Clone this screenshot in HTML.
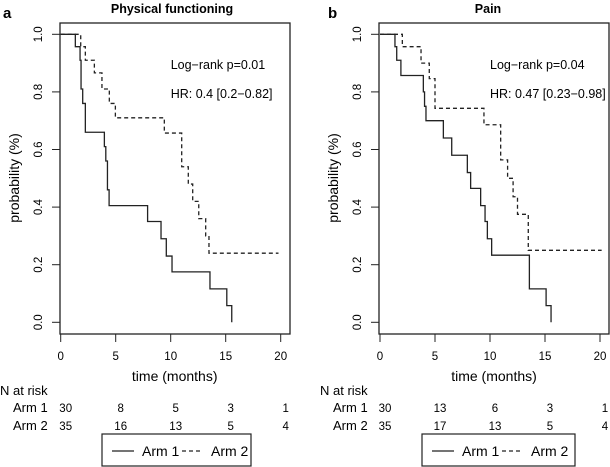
<!DOCTYPE html>
<html><head><meta charset="utf-8"><style>
html,body{margin:0;padding:0;background:#fff}
svg{display:block;font-family:"Liberation Sans",Arial,sans-serif}
</style></head><body>
<svg id="chart" width="610" height="467" viewBox="0 0 610 467"></svg>
<script>
// Panel a: Physical functioning
const aArm1Times=[0,1.33,1.76,1.85,2.0,2.24,3.97,4.1,4.25,4.4,7.9,9.12,9.6,10.12,13.57,15.1,15.55];
const aArm1Surv=[1.0,0.957,0.91,0.81,0.76,0.66,0.61,0.56,0.46,0.405,0.35,0.29,0.23,0.175,0.116,0.058,0.0];
const aArm2Times=[0,1.82,2.24,3.06,3.75,4.42,4.97,9.42,11.0,11.6,12.0,12.55,13.18,13.48];
const aArm2Surv=[1.0,0.957,0.91,0.866,0.81,0.76,0.71,0.657,0.54,0.48,0.42,0.36,0.30,0.24];
const aArm2End=19.8;
// Panel b: Pain
const bArm1Times=[0,1.36,1.52,1.9,3.94,4.05,4.18,5.76,6.52,7.94,8.24,9.15,9.55,9.76,10.15,13.58,15.1,15.55];
const bArm1Surv=[1.0,0.957,0.91,0.857,0.80,0.75,0.70,0.64,0.58,0.52,0.465,0.405,0.35,0.29,0.233,0.116,0.058,0.0];
const bArm2Times=[0,2.03,3.73,4.48,5.0,9.45,10.97,11.6,12.1,12.5,13.48];
const bArm2Surv=[1.0,0.957,0.90,0.846,0.743,0.686,0.564,0.50,0.436,0.375,0.25];
const bArm2End=20.15;
const xTicks=[0,5,10,15,20];
const yTicks=[0,0.2,0.4,0.6,0.8,1.0];
const yTickLabels=["0.0","0.2","0.4","0.6","0.8","1.0"];
const riskTimes=[0,5,10,15,20];
const aRisk1=[30,8,5,3,1];
const aRisk2=[35,16,13,5,4];
const bRisk1=[30,13,6,3,1];
const bRisk2=[35,17,13,5,4];

const NS="http://www.w3.org/2000/svg";
const svg=document.getElementById('chart');
function mk(tag,attrs,parent,text){const e=document.createElementNS(NS,tag);for(const k in attrs)e.setAttribute(k,attrs[k]);if(text!==undefined)e.textContent=text;(parent||svg).appendChild(e);return e;}

function panel(o){
  const g=mk('g',{});
  
  
  const X=t=>o.x0+t*11.0, Y=p=>322.3-p*288;
  const box=mk('rect',{x:o.bx,y:23,width:o.bw,height:311,fill:'none',stroke:'#222','stroke-width':1.3},g);
  
  const lt=mk('text',{x:o.lx,y:18,'font-size':15,'font-weight':'bold'},g,o.letter);
  
  const tt=mk('text',{x:o.tx,y:13,'font-size':12.5,'font-weight':'bold','text-anchor':'middle'},g,o.title);
  
  xTicks.forEach(v=>{
    const l=mk('line',{x1:X(v),x2:X(v),y1:334,y2:342,stroke:'#222'},g);
    
    const t=mk('text',{x:X(v),y:360,'font-size':11.5,'text-anchor':'middle'},g,String(v));
    
  });
  yTicks.forEach((v,i)=>{
    const l=mk('line',{x1:o.bx-8,x2:o.bx,y1:Y(v),y2:Y(v),stroke:'#222'},g);
    
    const t=mk('text',{x:o.bx-18,y:Y(v),'font-size':11.5,'text-anchor':'middle',transform:`rotate(-90 ${o.bx-18} ${Y(v)})`},g,yTickLabels[i]);
    
  });
  const yt=mk('text',{x:o.bx-41,y:178,'font-size':14,'text-anchor':'middle',transform:`rotate(-90 ${o.bx-41} 178)`},g,'probability (%)');
  
  const xt=mk('text',{x:X(10)+4,y:381,'font-size':14,'text-anchor':'middle'},g,'time (months)');
  
  const a1=mk('text',{x:X(10),y:69,'font-size':12.5},g,o.lr);
  
  const a2=mk('text',{x:X(10),y:98,'font-size':12.5},g,o.hr);
  
  function step(ts,ss,end){
    let d=`M${X(ts[0])},${Y(ss[0])}`;
    for(let i=1;i<ts.length;i++){d+=` H${X(ts[i])} V${Y(ss[i])}`;}
    if(end!==undefined)d+=` H${X(end)}`;
    return d;
  }
  const p1=mk('path',{d:step(o.t1,o.s1),fill:'none',stroke:'#222','stroke-width':1.3},g);
  
  const p2=mk('path',{d:step(o.t2,o.s2,o.e2),fill:'none',stroke:'#222','stroke-width':1.3,'stroke-dasharray':'4,3'},g);
  
  const nr=mk('text',{x:o.nx,y:395,'font-size':13},g,'N at risk');
  
  const r1=mk('text',{x:o.nx+13,y:412,'font-size':13},g,'Arm 1');
  
  const r2=mk('text',{x:o.nx+13,y:430,'font-size':13},g,'Arm 2');
  
  riskTimes.forEach((t,i)=>{
    const n1=mk('text',{x:X(t)+5,y:412,'font-size':11.5,'text-anchor':'middle'},g,String(o.r1[i]));
    
    const n2=mk('text',{x:X(t)+5,y:430,'font-size':11.5,'text-anchor':'middle'},g,String(o.r2[i]));
    
  });
  const lg=mk('g',{},g);
  
  mk('rect',{x:o.legx,y:434,width:o.legw,height:32,fill:'#fff',stroke:'#222','stroke-width':1.2},lg);
  const s1=mk('line',{x1:o.legx+10,x2:o.legx+32,y1:451,y2:451,stroke:'#222','stroke-width':1.3},lg);
  
  const l1=mk('text',{x:o.legx+40,y:456,'font-size':14},lg,'Arm 1');
  
  const s2=mk('line',{x1:o.legx+80,x2:o.legx+100,y1:451,y2:451,stroke:'#222','stroke-width':1.3,'stroke-dasharray':'4,3'},lg);
  
  const l2=mk('text',{x:o.legx+109,y:456,'font-size':14},lg,'Arm 2');
  
}
panel({name:'panel-a-physical-functioning',x0:60.7,bx:60,bw:230,lx:3,letter:'a',tx:172,title:'Physical functioning',
  lr:'Log\u2212rank p=0.01',hr:'HR: 0.4 [0.2\u22120.82]',t1:aArm1Times,s1:aArm1Surv,t2:aArm2Times,s2:aArm2Surv,e2:aArm2End,
  nx:0,r1:aRisk1,r2:aRisk2,legx:102,legw:149});
panel({name:'panel-b-pain',x0:380,bx:379,bw:230,lx:328,letter:'b',tx:488,title:'Pain',
  lr:'Log\u2212rank p=0.04',hr:'HR: 0.47 [0.23\u22120.98]',t1:bArm1Times,s1:bArm1Surv,t2:bArm2Times,s2:bArm2Surv,e2:bArm2End,
  nx:320,r1:bRisk1,r2:bRisk2,legx:422,legw:153});
</script>
</body></html>
